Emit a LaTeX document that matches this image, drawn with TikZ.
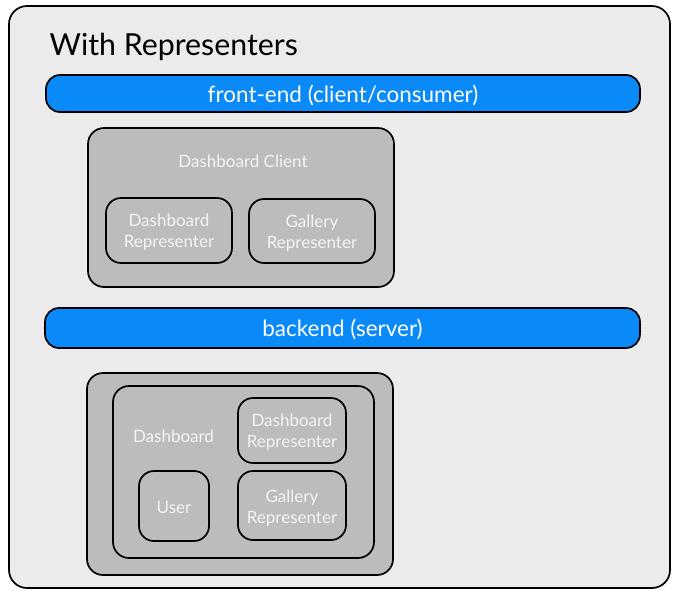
\documentclass[tikz,border=0pt]{standalone}
\usepackage{fontspec}
\setmainfont{Lato}
\definecolor{panel}{HTML}{EBEBEB}
\definecolor{bluebar}{HTML}{0A8AF8}
\definecolor{graybox}{HTML}{BCBCBC}
\definecolor{softwhite}{HTML}{F4F4F4}
\newcommand\lowered[2][4pt]{\raisebox{0pt}[\dimexpr\height+#1\relax][\depth]{\begin{tabular}{@{}c@{}}#2\end{tabular}}}
\tikzset{
  base/.style={draw=black,line width=1.7pt,inner sep=0pt,align=center},
  panelbox/.style={base,fill=panel,rounded corners=18pt},
  bar/.style={base,fill=bluebar,rounded corners=14pt,text=white,font=\fontsize{22.5}{26}\selectfont},
  outerbox/.style={base,fill=graybox,rounded corners=16pt},
  innerbox/.style={base,fill=graybox,rounded corners=15pt,text=softwhite,font=\fontsize{17}{21}\selectfont},
  lbl/.style={inner sep=0pt,text=softwhite,font=\fontsize{17}{21}\selectfont},
}
\begin{document}
\begin{tikzpicture}[x=1pt,y=-1pt]
\useasboundingbox[fill=white] (0,0) rectangle (679,595);
\node[panelbox,minimum width=661pt,minimum height=582pt] (main) at (339.5,297) {};
\node[inner sep=0pt,anchor=west,font=\fontsize{30.3}{36}\selectfont] (title) at (49.5,46.5) {With Representers};
\node[bar,minimum width=594pt,minimum height=37pt] (front) at (343,93.5) {\lowered[7pt]{front-end (client/consumer)}};
\node[outerbox,minimum width=306pt,minimum height=159pt] (client) at (241,207.5) {};
\node[lbl] (clientlbl) at (243,161) {Dashboard Client};
\node[innerbox,minimum width=126pt,minimum height=65pt] (dr1) at (169,230.5) {\lowered{Dashboard\\Representer}};
\node[innerbox,minimum width=126pt,minimum height=64pt] (gr1) at (312,231) {\lowered[6pt]{Gallery\\Representer}};
\node[bar,minimum width=595pt,minimum height=40pt] (back) at (342.5,328) {\lowered[7pt]{backend (server)}};
\node[outerbox,minimum width=306pt,minimum height=202pt] (server) at (240,474) {};
\node[outerbox,minimum width=261pt,minimum height=172pt] (dash) at (243.5,472) {};
\node[lbl] (dashlbl) at (173.5,436) {Dashboard};
\node[innerbox,minimum width=108pt,minimum height=65pt] (dr2) at (292,430.5) {\lowered{Dashboard\\Representer}};
\node[innerbox,minimum width=108pt,minimum height=69pt] (gr2) at (292,505.5) {\lowered[6pt]{Gallery\\Representer}};
\node[innerbox,minimum width=70pt,minimum height=70pt] (user) at (174,506) {\lowered[6pt]{User}};
\end{tikzpicture}
\end{document}
